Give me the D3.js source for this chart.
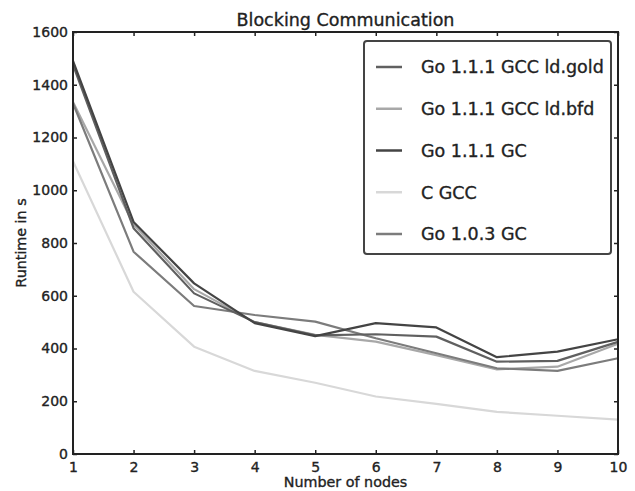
<!DOCTYPE html>
<html><head><meta charset="utf-8">
<script src="https://cdn.jsdelivr.net/npm/d3@7"></script>
<style>
body{margin:0;background:#fff;}
svg{display:block;font-family:"DejaVu Sans",sans-serif;}
svg text{stroke:#222;stroke-width:0.35px;}
</style></head>
<body>
<script>
const nodes = [1,2,3,4,5,6,7,8,9,10];
const seriesNames = ["Go 1.1.1 GCC ld.gold","Go 1.1.1 GCC ld.bfd","Go 1.1.1 GC","C GCC","Go 1.0.3 GC"];
const goGold = [1475, 856, 609, 500, 450, 454, 445, 350, 353, 425];
const goBfd  = [1335, 870, 625, 500, 452, 426, 375, 321, 331, 418];
const goGC   = [1490, 880, 647, 496, 447, 496, 480, 367, 388, 435];
const cGcc   = [1110, 615, 407, 315, 270, 218, 190, 160, 145, 130];
const go103  = [1330, 767, 561, 527, 502, 439, 382, 325, 315, 363];
const xTicks = [1,2,3,4,5,6,7,8,9,10];
const yTicks = [0,200,400,600,800,1000,1200,1400,1600];
const colors = ["#606060","#a8a8a8","#444444","#d8d8d8","#7c7c7c"];

const W=635,H=491;
const m={left:73,right:17,top:32,bottom:37};
const svg=d3.select("body").append("svg").attr("width",W).attr("height",H);
const x=d3.scaleLinear().domain([1,10]).range([m.left,W-m.right]);
const y=d3.scaleLinear().domain([0,1600]).range([H-m.bottom,m.top]);

const data=[goGold,goBfd,goGC,cGcc,go103];
const line=d3.line().x((d,i)=>x(nodes[i])).y(d=>y(d));
[3,1,4,0,2].forEach(k=>{
  svg.append("path").datum(data[k]).attr("d",line)
    .attr("fill","none").attr("stroke",colors[k]).attr("stroke-width",2.2).attr("stroke-linejoin","round");
});

function styleAxis(g){
  g.select(".domain").remove();
  g.selectAll(".tick line").attr("stroke","#222").attr("stroke-width",1.5);
  g.selectAll("text").attr("fill","#222").style("font-size","14px").style("font-family","DejaVu Sans");
}
svg.append("g").attr("transform",`translate(0,${y(0)})`)
  .call(d3.axisBottom(x).tickValues(xTicks).tickSize(-4).tickPadding(8).tickFormat(d3.format("d"))).call(styleAxis);
svg.append("g").attr("transform",`translate(${x(1)},0)`)
  .call(d3.axisLeft(y).tickValues(yTicks).tickSize(-4).tickPadding(5).tickFormat(d3.format("d"))).call(styleAxis);
svg.append("g").attr("transform",`translate(0,${y(1600)})`)
  .call(d3.axisTop(x).tickValues(xTicks).tickSize(-4).tickFormat("")).call(styleAxis);
svg.append("g").attr("transform",`translate(${x(10)},0)`)
  .call(d3.axisRight(y).tickValues(yTicks).tickSize(-4).tickFormat("")).call(styleAxis);

svg.append("rect").attr("x",x(1)).attr("y",y(1600)).attr("width",x(10)-x(1)).attr("height",y(0)-y(1600))
  .attr("fill","none").attr("stroke","#222").attr("stroke-width",2);

svg.append("text").attr("x",(x(1)+x(10))/2).attr("y",26).attr("text-anchor","middle")
  .style("font-size","17.5px").attr("fill","#222").text("Blocking Communication");
svg.append("text").attr("x",(x(1)+x(10))/2).attr("y",487).attr("text-anchor","middle")
  .style("font-size","14.3px").attr("fill","#222").text("Number of nodes");
svg.append("text").attr("transform",`translate(26,${(y(0)+y(1600))/2}) rotate(-90)`).attr("text-anchor","middle")
  .style("font-size","14.3px").attr("fill","#222").text("Runtime in s");

const lg=svg.append("g");
lg.append("rect").attr("x",364).attr("y",41).attr("width",247).attr("height",213).attr("rx",3)
  .attr("fill","#fff").attr("stroke","#444").attr("stroke-width",2);
seriesNames.forEach((n,i)=>{
  const cy=67+i*41.75;
  lg.append("line").attr("x1",376).attr("x2",402).attr("y1",cy).attr("y2",cy)
    .attr("stroke",colors[i]).attr("stroke-width",2.5);
  lg.append("text").attr("x",421).attr("y",cy).attr("dy","0.36em")
    .style("font-size","17.5px").attr("fill","#222").text(n);
});
</script>
</body></html>
